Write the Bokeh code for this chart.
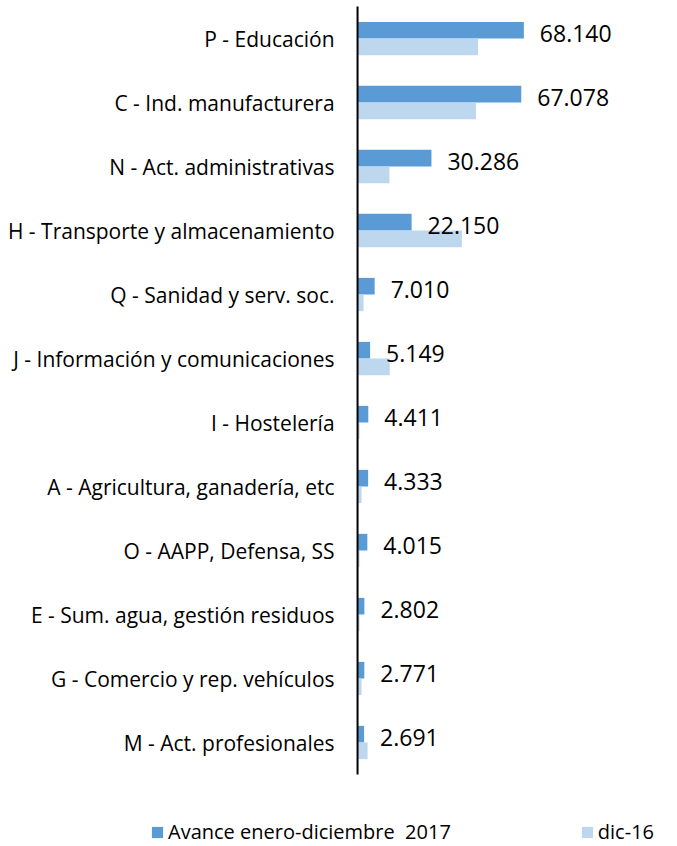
from bokeh.plotting import figure
from bokeh.models import Range1d, ColumnDataSource, Legend, LegendItem
from bokeh.transform import dodge
from bokeh.core.properties import value
from bokeh.embed import file_html
from bokeh.resources import INLINE

categories = [
    "P - Educación",
    "C - Ind. manufacturera",
    "N - Act. administrativas",
    "H - Transporte y almacenamiento",
    "Q - Sanidad y serv. soc.",
    "J - Información y comunicaciones",
    "I - Hostelería",
    "A - Agricultura, ganadería, etc",
    "O - AAPP, Defensa, SS",
    "E - Sum. agua, gestión residuos",
    "G - Comercio y rep. vehículos",
    "M - Act. profesionales",
]
avance_2017 = [68140, 67078, 30286, 22150, 7010, 5149, 4411, 4333, 4015, 2802, 2771, 2691]
dic_16 = [49340, 48520, 13070, 42750, 2470, 13190, 820, 1650, 820, 820, 1650, 4120]
series_names = ["Avance enero-diciembre  2017", "dic-16"]
colors = ["#5B9BD5", "#BDD7EE"]


def fmt(v):
    return f"{v:,}".replace(",", ".")


pos = list(range(len(categories)))
src = ColumnDataSource(dict(
    pos=pos,
    cat=categories,
    zero=[0] * len(categories),
    avance=avance_2017,
    dic=dic_16,
    label=[fmt(v) for v in avance_2017],
))

# category axis runs top-to-bottom (start > end flips it)
p = figure(
    width=677, height=846,
    x_range=Range1d(-146300, 131100),
    y_range=Range1d(start=12.625, end=-0.594),
    x_axis_type=None, y_axis_type=None,
    output_backend="svg", toolbar_location=None,
    min_border_left=0, min_border_right=0, min_border_top=0, min_border_bottom=0,
)
p.xgrid.grid_line_color = None
p.ygrid.grid_line_color = None
p.outline_line_color = None

r1 = p.hbar(y=dodge("pos", -0.13), left=0, right="avance", height=0.26,
            fill_color=colors[0], line_color=None, source=src)
r2 = p.hbar(y=dodge("pos", 0.13), left=0, right="dic", height=0.26,
            fill_color=colors[1], line_color=None, source=src)

# category axis line at x = 0, spanning the category band
p.segment(x0=0, y0=pos[0] - 0.5, x1=0, y1=pos[-1] + 0.5, line_color="#000000", line_width=2)

# category labels
p.text(x="zero", y="pos", text="cat", x_offset=-23, text_align="right", text_baseline="middle",
       text_font=value("Open Sans"), text_font_size="21px", text_color="#000000", source=src)

# data labels
p.text(x="avance", y=dodge("pos", -0.13), text="label",
       x_offset=16, y_offset=3, text_align="left", text_baseline="middle",
       text_font=value("Open Sans"), text_font_size="23px", text_color="#000000",
       source=src)

legend = Legend(
    items=[LegendItem(label=series_names[0], renderers=[r1]),
           LegendItem(label=series_names[1], renderers=[r2])],
    orientation="horizontal",
    location=(150, 1),
    glyph_width=14, glyph_height=14,
    label_standoff=4, spacing=129, label_height=14,
    label_text_font="Open Sans", label_text_font_size="20px", label_text_color="#000000",
    label_text_line_height=0.9,
    padding=0, margin=0,
    border_line_color=None, background_fill_color=None, background_fill_alpha=0,
)
p.add_layout(legend, "center")

open("out.html", "w").write(file_html(p, INLINE))
